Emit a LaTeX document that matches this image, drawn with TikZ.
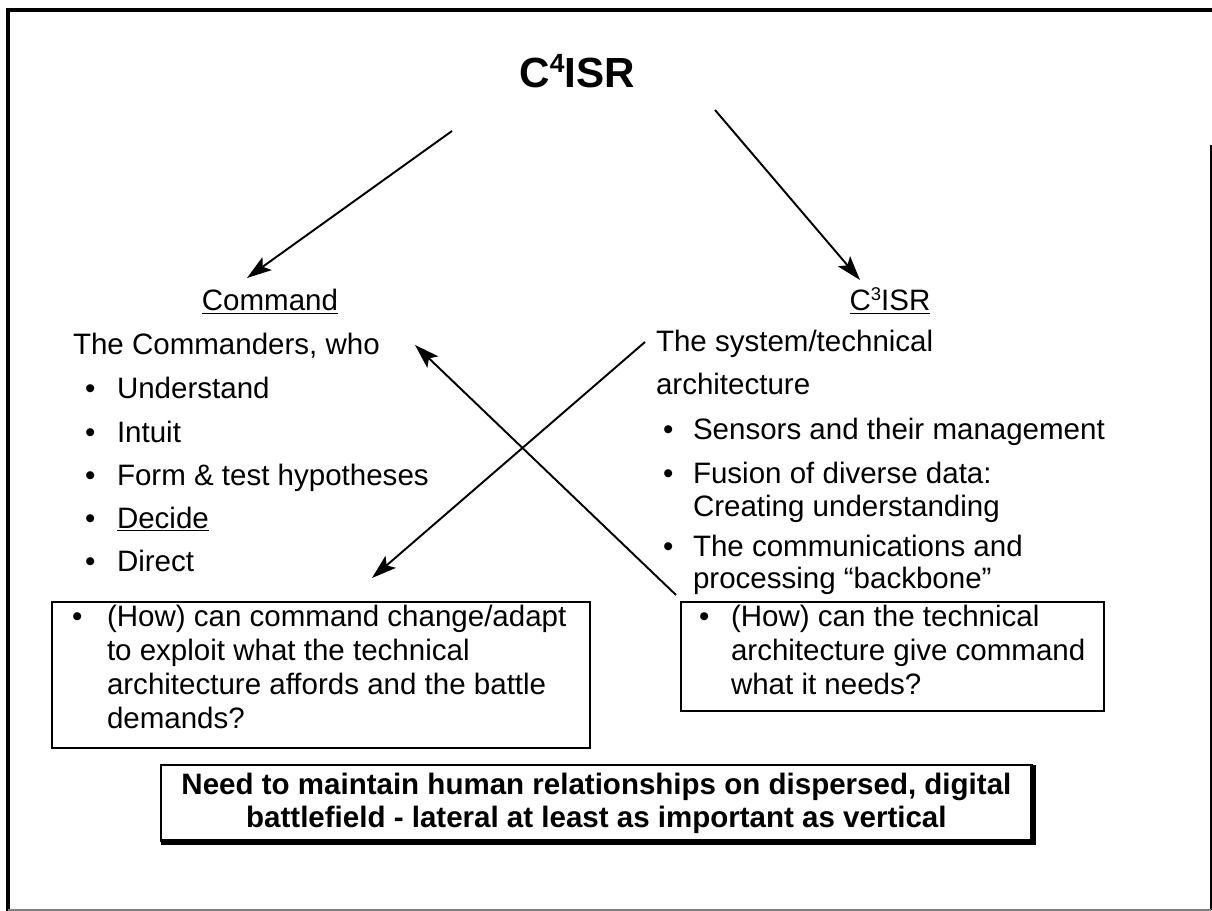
\documentclass[tikz,border=0pt]{standalone}
\usepackage{fontspec}
\setmainfont{Liberation Sans}
\usetikzlibrary{arrows.meta}

\begin{document}
\begin{tikzpicture}[x=0.02cm, y=-0.02cm, line join=miter,
	every node/.style={inner sep=0pt, outer sep=0pt},
	txt/.style={anchor=base west, font=\fontsize{16.8}{18.8}\selectfont},
	qbox/.style={draw, line width=0.9pt, anchor=north west},
	arr/.style={-{Stealth[length=14pt, width=9pt, inset=3pt]}, line width=1.1pt}]
	
	\useasboundingbox (0,0) rectangle (1212,911);
	% Khung ngoài
	\draw[line width=2.4pt] (6,10) -- (1212,10);
	\draw[line width=1.8pt] (8,9) -- (8,911);
	\draw[line width=1.2pt] (1211,145) -- (1211,910);
	\draw[gray, line width=0.6pt] (8,910) -- (1211,910);
	
	% Tiêu đề
	\node[anchor=base, font=\fontsize{24}{28}\selectfont\bfseries] (title) at (577,88) {C\raisebox{9pt}{\fontsize{15}{15}\selectfont 4}ISR};
	\node[txt, anchor=base] (cmdhead) at (270,311) {\underline{Command}};
	\node[txt, anchor=base] (c3head) at (890,311) {\underline{C\raisebox{6pt}{\fontsize{10.5}{10.5}\selectfont 3}ISR}};
	
	% Cột trái
	\node[txt] (who) at (73,355) {The Commanders, who};
	\node[txt] (ldot1) at (85,399) {\textbullet};
	\node[txt] (under) at (117,399) {Understand};
	\node[txt] (ldot2) at (85,442) {\textbullet};
	\node[txt] (intuit) at (117,442) {Intuit};
	\node[txt] (ldot3) at (85,485) {\textbullet};
	\node[txt] (form) at (117,485) {Form \& test hypotheses};
	\node[txt] (ldot4) at (85,528) {\textbullet};
	\node[txt] (decide) at (117,528) {\underline{Decide}};
	\node[txt] (ldot5) at (85,571) {\textbullet};
	\node[txt] (direct) at (117,571) {Direct};
	
	% Cột phải
	\node[txt] (sys) at (656,352) {The system/technical};
	\node[txt] (arch) at (656,395) {architecture};
	\node[txt] (rdot1) at (663,439) {\textbullet};
	\node[txt] (sens) at (693,439) {Sensors and their management};
	\node[txt] (rdot2) at (663,483) {\textbullet};
	\node[txt] (fus) at (693,483) {Fusion of diverse data:};
	\node[txt] (crea) at (693,516) {Creating understanding};
	\node[txt] (rdot3) at (663,556) {\textbullet};
	\node[txt] (comm) at (693,556) {The communications and};
	\node[txt] (proc) at (693,588) {processing “backbone”};
	
	% Hai hộp câu hỏi
	\node[qbox, minimum width=10.76cm, minimum height=2.92cm] (lbox) at (52,602) {};
	\node[txt] (lqdot) at (72,626) {\textbullet};
	\node[txt] (lq1) at (107,626) {(How) can command change/adapt};
	\node[txt] (lq2) at (107,660) {to exploit what the technical};
	\node[txt] (lq3) at (107,694) {architecture affords and the battle};
	\node[txt] (lq4) at (107,728) {demands?};
	
	\node[qbox, minimum width=8.46cm, minimum height=2.18cm] (rbox) at (681,602) {};
	\node[txt] (rqdot) at (699,626) {\textbullet};
	\node[txt] (rq1) at (731,626) {(How) can the technical};
	\node[txt] (rq2) at (731,660) {architecture give command};
	\node[txt] (rq3) at (731,694) {what it needs?};
	
	% Hộp kết luận
	\node[qbox, line width=1.7pt, minimum width=17.42cm, minimum height=1.52cm] (bbox) at (161,765) {};
	\draw[line width=1.4pt] ([yshift=-1.5pt]bbox.south west) -- ([xshift=1.5pt, yshift=-1.5pt]bbox.south east) -- ([xshift=1.5pt]bbox.north east);
	\node[align=center, font=\fontsize{16.8}{18.8}\selectfont\bfseries] (need) at (bbox.center) {Need to maintain human relationships on dispersed, digital\\battlefield - lateral at least as important as vertical};
	
	% Mũi tên
	\coordinate (lt) at (452,131);
	\coordinate (lh) at (247,278);
	\coordinate (rt) at (715,110);
	\coordinate (rh) at (860,280);
	\coordinate (xa) at (645,342);
	\coordinate (xah) at (372,578);
	\coordinate (xb) at (676,595);
	\coordinate (xbh) at (415,345);
	\draw[arr] (lt) -- (lh);
	\draw[arr] (rt) -- (rh);
	\draw[arr] (xa) -- (xah);
	\draw[arr] (xb) -- (xbh);
\end{tikzpicture}
\end{document}
